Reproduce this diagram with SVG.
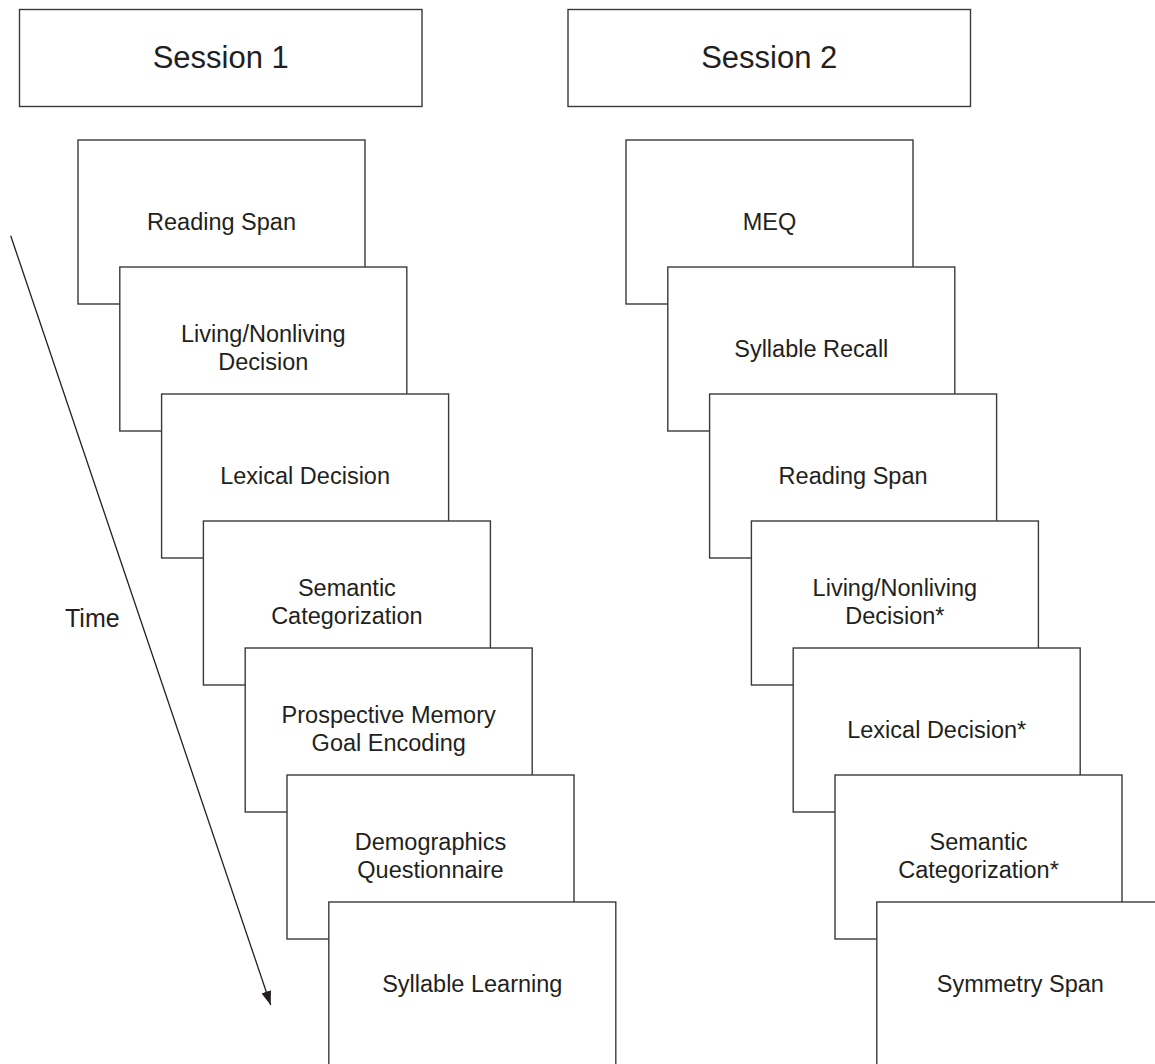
<svg xmlns="http://www.w3.org/2000/svg" width="1155" height="1064" viewBox="0 0 1155 1064">
<style>
.box{fill:#fff;stroke:#3a3a3a;stroke-width:1.4}
.hdr{font-family:"Liberation Sans",Arial,sans-serif;font-size:31px;fill:#231f20;text-anchor:middle}
.lbl{font-family:"Liberation Sans",Arial,sans-serif;font-size:23.5px;fill:#231f20;text-anchor:middle}
.time{font-family:"Liberation Sans",Arial,sans-serif;font-size:25px;fill:#231f20}
.conn{stroke:#231f20;stroke-width:1.3;fill:none}
</style>
<defs>
<marker id="arr" markerUnits="userSpaceOnUse" markerWidth="14" markerHeight="10" refX="14" refY="5" orient="auto">
<path d="M0,0 L14,5 L0,10 z" fill="#231f20"/>
</marker>
</defs>
<rect width="1155" height="1064" fill="#fff"/>
<g id="session1"><rect class="box" x="19.5" y="9.5" width="402.5" height="97"/><text class="hdr" x="220.7" y="68">Session 1</text></g>
<g id="session2"><rect class="box" x="568" y="9.5" width="402.5" height="97"/><text class="hdr" x="769.2" y="68">Session 2</text></g>

<g id="s1-reading"><rect class="box" x="78" y="140" width="287" height="164"/><text class="lbl" x="221.5" y="229.5">Reading Span</text></g>
<g id="s1-living"><rect class="box" x="119.8" y="267" width="287" height="164"/><text class="lbl" x="263.3" y="342">Living/Nonliving</text><text class="lbl" x="263.3" y="369.5">Decision</text></g>
<g id="s1-lexical"><rect class="box" x="161.6" y="394" width="287" height="164"/><text class="lbl" x="305.1" y="483.5">Lexical Decision</text></g>
<g id="s1-semantic"><rect class="box" x="203.4" y="521" width="287" height="164"/><text class="lbl" x="346.9" y="596">Semantic</text><text class="lbl" x="346.9" y="623.5">Categorization</text></g>
<g id="s1-prospective"><rect class="box" x="245.2" y="648" width="287" height="164"/><text class="lbl" x="388.7" y="723">Prospective Memory</text><text class="lbl" x="388.7" y="750.5">Goal Encoding</text></g>
<g id="s1-demographics"><rect class="box" x="287" y="775" width="287" height="164"/><text class="lbl" x="430.5" y="850">Demographics</text><text class="lbl" x="430.5" y="877.5">Questionnaire</text></g>
<g id="s1-syllable"><rect class="box" x="328.8" y="902" width="287" height="164"/><text class="lbl" x="472.3" y="991.5">Syllable Learning</text></g>

<g id="s2-meq"><rect class="box" x="626" y="140" width="287" height="164"/><text class="lbl" x="769.5" y="229.5">MEQ</text></g>
<g id="s2-recall"><rect class="box" x="667.8" y="267" width="287" height="164"/><text class="lbl" x="811.3" y="356.5">Syllable Recall</text></g>
<g id="s2-reading"><rect class="box" x="709.6" y="394" width="287" height="164"/><text class="lbl" x="853.1" y="483.5">Reading Span</text></g>
<g id="s2-living"><rect class="box" x="751.4" y="521" width="287" height="164"/><text class="lbl" x="894.9" y="596">Living/Nonliving</text><text class="lbl" x="894.9" y="623.5">Decision*</text></g>
<g id="s2-lexical"><rect class="box" x="793.2" y="648" width="287" height="164"/><text class="lbl" x="936.7" y="737.5">Lexical Decision*</text></g>
<g id="s2-semantic"><rect class="box" x="835" y="775" width="287" height="164"/><text class="lbl" x="978.5" y="850">Semantic</text><text class="lbl" x="978.5" y="877.5">Categorization*</text></g>
<g id="s2-symmetry"><rect class="box" x="876.8" y="902" width="287" height="164"/><text class="lbl" x="1020.3" y="991.5">Symmetry Span</text></g>

<g id="time-label"><text class="time" x="65" y="627">Time</text></g>
<g id="connectors"><line class="conn" x1="10.7" y1="235.7" x2="270.7" y2="1005" marker-end="url(#arr)"/></g>
</svg>
